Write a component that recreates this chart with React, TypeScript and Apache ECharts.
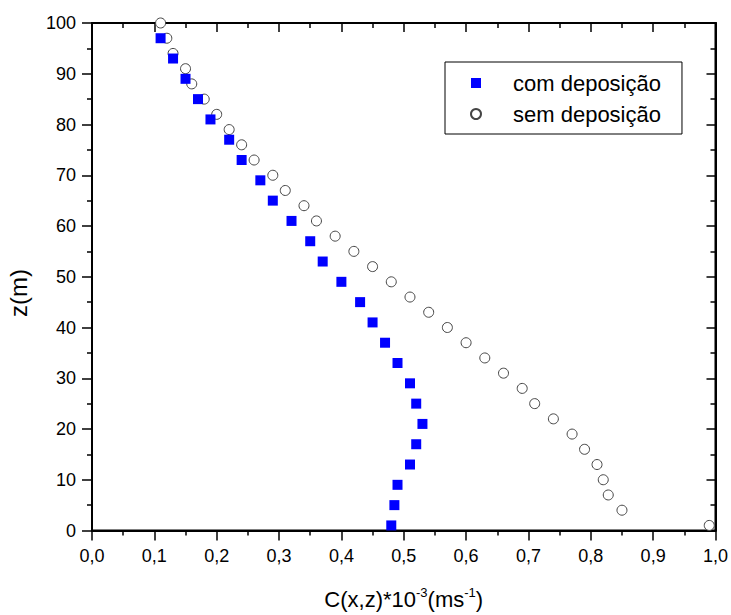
import React, { useEffect, useRef } from "react";
import * as echarts from "echarts";

const comZ = [1, 5, 9, 13, 17, 21, 25, 29, 33, 37, 41, 45, 49, 53, 57, 61, 65, 69, 73, 77, 81, 85, 89, 93, 97];
const comC = [0.48, 0.485, 0.49, 0.51, 0.52, 0.53, 0.52, 0.51, 0.49, 0.47, 0.45, 0.43, 0.40, 0.37, 0.35, 0.32, 0.29, 0.27, 0.24, 0.22, 0.19, 0.17, 0.15, 0.13, 0.11];

const semZ = [1, 4, 7, 10, 13, 16, 19, 22, 25, 28, 31, 34, 37, 40, 43, 46, 49, 52, 55, 58, 61, 64, 67, 70, 73, 76, 79, 82, 85, 88, 91, 94, 97, 100];
const semC = [0.99, 0.85, 0.828, 0.82, 0.81, 0.79, 0.77, 0.74, 0.71, 0.69, 0.66, 0.63, 0.60, 0.57, 0.54, 0.51, 0.48, 0.45, 0.42, 0.39, 0.36, 0.34, 0.31, 0.29, 0.26, 0.24, 0.22, 0.20, 0.18, 0.16, 0.15, 0.13, 0.12, 0.11];

const seriesNames = ["com deposição", "sem deposição"];
const FONT = "'Liberation Sans', Arial, sans-serif";

export default function App() {
  const ref = useRef<HTMLDivElement>(null);
  useEffect(() => {
    if (!ref.current) return;
    const chart = echarts.init(ref.current, null, { renderer: "svg" });
    const mkLine = () => ({ show: true, onZero: false, lineStyle: { color: "#000", width: 2 } });
    const tickStyle = () => ({ color: "#000", width: 1.5 });
    chart.setOption({
      animation: false,
      backgroundColor: "#fff",
      textStyle: { fontFamily: FONT },
      grid: { left: 92, right: 14, top: 23, bottom: 82, show: true, borderColor: "#000", borderWidth: 2, backgroundColor: "transparent" },
      legend: {
        left: 445,
        top: 62,
        orient: "vertical",
        data: [
          { name: seriesNames[0], icon: "rect" },
          { name: seriesNames[1], icon: "circle" },
        ],
        itemWidth: 10,
        itemHeight: 10,
        itemGap: 9,
        padding: [10, 21, 9, 25],
        borderColor: "#000",
        borderWidth: 1,
        textStyle: { fontSize: 22, color: "#000", fontFamily: FONT, padding: [0, 0, 0, 27], lineHeight: 22 },
      },
      xAxis: [
        {
          type: "value",
          min: 0,
          max: 1,
          interval: 0.1,
          position: "bottom",
          axisLine: mkLine(),
          axisTick: { show: true, inside: false, length: 10, lineStyle: tickStyle() },
          minorTick: { show: true, splitNumber: 2, length: 5, lineStyle: tickStyle() },
          splitLine: { show: false },
          axisLabel: {
            margin: 16,
            fontSize: 18,
            color: "#000",
            fontFamily: FONT,
            formatter: (v: number) => v.toFixed(1).replace(".", ","),
          },
          name: "C(x,z)*10{sup|-3}(ms{sup|-1})",
          nameLocation: "middle",
          nameGap: 55,
          nameTextStyle: {
            fontSize: 22,
            color: "#000",
            fontFamily: FONT,
            rich: {
              sup: { fontSize: 13, color: "#000", fontFamily: FONT, padding: [0, 0, 14, 0] },
            },
          },
        },
        {
          type: "value",
          min: 0,
          max: 1,
          interval: 0.1,
          position: "top",
          axisLine: mkLine(),
          axisTick: { show: true, inside: true, length: 9, lineStyle: tickStyle() },
          minorTick: { show: true, splitNumber: 2, length: 5, lineStyle: tickStyle() },
          splitLine: { show: false },
          axisLabel: { show: false },
        },
      ],
      yAxis: [
        {
          type: "value",
          min: 0,
          max: 100,
          interval: 10,
          position: "left",
          axisLine: mkLine(),
          axisTick: { show: true, inside: false, length: 10, lineStyle: tickStyle() },
          minorTick: { show: true, splitNumber: 2, length: 5, lineStyle: tickStyle() },
          splitLine: { show: false },
          axisLabel: { margin: 16, fontSize: 18, color: "#000", fontFamily: FONT },
        },
        {
          type: "value",
          min: 0,
          max: 100,
          interval: 10,
          position: "right",
          axisLine: mkLine(),
          axisTick: { show: true, inside: true, length: 9, lineStyle: tickStyle() },
          minorTick: { show: true, splitNumber: 2, length: 5, lineStyle: tickStyle() },
          splitLine: { show: false },
          axisLabel: { show: false },
        },
      ],
      graphic: [
        {
          type: "text",
          x: 18,
          y: 293,
          rotation: Math.PI / 2,
          style: {
            text: "z(m)",
            fontSize: 24,
            fill: "#000",
            fontFamily: FONT,
            align: "center",
            verticalAlign: "middle",
          },
        },
      ],
      series: [
        {
          name: seriesNames[0],
          type: "scatter",
          xAxisIndex: 0,
          yAxisIndex: 0,
          symbol: "rect",
          symbolSize: 10,
          itemStyle: { color: "#0000ff", opacity: 1 },
          data: comC.map((c, i) => [c, comZ[i]]),
          z: 3,
        },
        {
          name: seriesNames[1],
          type: "scatter",
          xAxisIndex: 0,
          yAxisIndex: 0,
          symbol: "circle",
          symbolSize: 10,
          itemStyle: { color: "#fff", borderColor: "#444", borderWidth: 1, opacity: 1 },
          data: semC.map((c, i) => [c, semZ[i]]),
          z: 2,
        },
      ],
    });
    return () => chart.dispose();
  }, []);
  return (
    <div
      ref={ref}
      style={{ position: "absolute", left: 0, top: 0, width: 731, height: 615 }}
    />
  );
}
